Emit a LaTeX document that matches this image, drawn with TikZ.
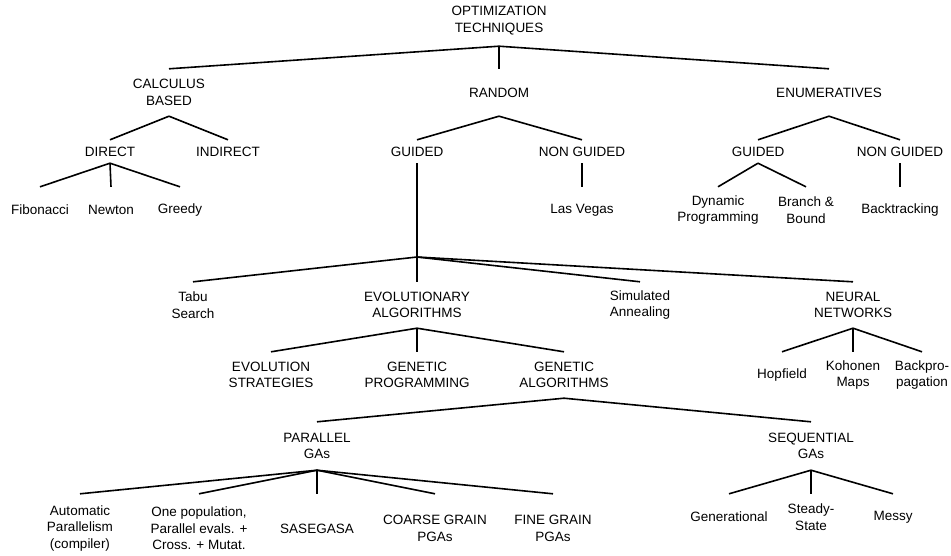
\documentclass[tikz,border=0pt]{standalone}
\usepackage{fontspec}
\setmainfont{Liberation Sans}
\tikzset{
	lbl/.style={align=center, inner sep=0pt, font=\fontsize{13.5}{16.5}\selectfont, minimum height=#1},
	lbl/.default=46pt,
	br/.style={line width=1.6pt}
}
\begin{document}
\begin{tikzpicture}[x=1pt,y=-1pt]
\useasboundingbox (0,0) rectangle (951,555);
\node[lbl=51pt] (opt) at (499,20.5) {OPTIMIZATION\\TECHNIQUES};
\node[lbl=47pt] (calc) at (169,92.5) {CALCULUS\\BASED};
\node[lbl=47pt] (rand) at (499,92.5) {RANDOM};
\node[lbl=47pt] (enum) at (829,92.5) {ENUMERATIVES};
% second row
\node[lbl=23pt] (direct) at (110,151.5) {DIRECT};
\node[lbl=23pt] (indirect) at (228,151.5) {INDIRECT};
\node[lbl=23pt] (rguided) at (417,151.5) {GUIDED};
\node[lbl=23pt] (rnonguided) at (582,151.5) {NON GUIDED};
\node[lbl=23pt] (eguided) at (758,151.5) {GUIDED};
\node[lbl=23pt] (enonguided) at (900,151.5) {NON GUIDED};
\node[lbl] (fib) at (40,210) {Fibonacci};
\node[lbl] (newton) at (111,210) {Newton};
\node[lbl] (greedy) at (180,210) {Greedy};
\node[lbl] (lasvegas) at (582,210) {Las Vegas};
\node[lbl] (dynprog) at (718,210) {Dynamic\\Programming};
\node[lbl] (branch) at (806,210) {Branch \&\\Bound};
\node[lbl] (backtrack) at (900,210) {Backtracking};
\coordinate (gsplit) at (417,257);
% guided random techniques
\node[lbl] (tabu) at (193,305) {Tabu\\Search};
\node[lbl] (evol) at (417,305) {EVOLUTIONARY\\ALGORITHMS};
\node[lbl] (simann) at (640,305) {Simulated\\Annealing};
\node[lbl] (neural) at (853,305) {NEURAL\\NETWORKS};
\node[lbl] (evstrat) at (271,375) {EVOLUTION\\STRATEGIES};
\node[lbl] (genprog) at (417,375) {GENETIC\\PROGRAMMING};
\node[lbl] (genalg) at (564,375) {GENETIC\\ALGORITHMS};
\node[lbl] (hopfield) at (782,375) {Hopfield};
\node[lbl] (kohonen) at (853,375) {Kohonen\\Maps};
\node[lbl] (backprop) at (922,375) {Backpro-\\pagation};
\node[lbl=48pt] (pgas) at (317,446) {PARALLEL\\GAs};
\node[lbl=48pt] (sgas) at (811,446) {SEQUENTIAL\\GAs};
\node[lbl=69pt] (autopar) at (80,528.5) {Automatic\\Parallelism\\(compiler)};
\node[lbl=69pt] (onepop) at (199,528.5) {One population,\\Parallel evals. +\\Cross. + Mutat.};
\node[lbl=69pt] (sasegasa) at (317,528.5) {SASEGASA};
\node[lbl=69pt] (coarse) at (435,528.5) {COARSE GRAIN\\PGAs};
\node[lbl=69pt] (fine) at (553,528.5) {FINE GRAIN\\PGAs};
\node[lbl] (gener) at (729,517) {Generational};
\node[lbl] (steady) at (811,517) {Steady-\\State};
\node[lbl] (messy) at (893,517) {Messy};
% branches
\foreach \c in {calc,rand,enum} \draw[br] (opt.south) -- (\c.north);
\foreach \c in {direct,indirect} \draw[br] (calc.south) -- (\c.north);
\foreach \c in {fib,newton,greedy} \draw[br] (direct.south) -- (\c.north);
\foreach \c in {rguided,rnonguided} \draw[br] (rand.south) -- (\c.north);
\draw[br] (rnonguided.south) -- (lasvegas.north);
\foreach \c in {eguided,enonguided} \draw[br] (enum.south) -- (\c.north);
\foreach \c in {dynprog,branch} \draw[br] (eguided.south) -- (\c.north);
\draw[br] (enonguided.south) -- (backtrack.north);
\draw[br] (rguided.south) -- (gsplit);
\foreach \c in {tabu,evol,simann,neural} \draw[br] (gsplit) -- (\c.north);
\foreach \c in {evstrat,genprog,genalg} \draw[br] (evol.south) -- (\c.north);
\foreach \c in {hopfield,kohonen,backprop} \draw[br] (neural.south) -- (\c.north);
\foreach \c in {pgas,sgas} \draw[br] (genalg.south) -- (\c.north);
\foreach \c in {autopar,onepop,sasegasa,coarse,fine} \draw[br] (pgas.south) -- (\c.north);
\foreach \c in {gener,steady,messy} \draw[br] (sgas.south) -- (\c.north);
\end{tikzpicture}
\end{document}
